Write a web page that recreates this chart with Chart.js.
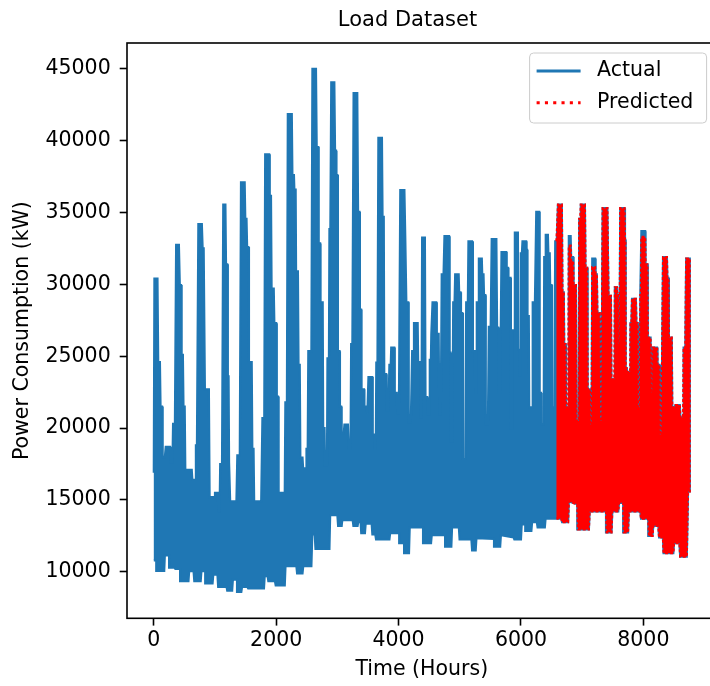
<!DOCTYPE html>
<html lang="en">
<head>
    <meta charset="UTF-8">
    <title>Load Dataset</title>
    <style>
        body { margin: 0; background: #fff; }
        #wrap { width: 710px; height: 686px; overflow: hidden; }
    </style>
</head>
<body>
<div id="wrap">
    <canvas id="load_canvas" width="815" height="686"></canvas>
</div>
<script src="https://cdn.jsdelivr.net/npm/chart.js@4.4.0/dist/chart.umd.min.js"></script>
<script>
    const xTicks = [0, 2000, 4000, 6000, 8000];
    const yTicks = [10000, 15000, 20000, 25000, 30000, 35000, 40000, 45000];

    // hourly load drawn as its upper / lower envelope: [hour, kW]
    const actualHigh = [
        [0, 16900], [10, 30400], [60, 30400], [72, 24600], [100, 24600], [110, 21500], [135, 21500],
        [145, 17950], [180, 17950], [195, 18700], [265, 18700], [280, 17600], [305, 17600], [315, 20300],
        [345, 20300], [365, 32750], [410, 32750], [425, 29950], [445, 29950], [455, 25100], [475, 25100],
        [485, 21500], [505, 21500], [515, 17100], [620, 17100], [630, 16400], [675, 16400], [688, 18800],
        [705, 18800], [728, 34200], [785, 34200], [798, 32500], [815, 32500], [835, 22700], [900, 22700],
        [912, 15200], [990, 15200], [1000, 15500], [1045, 15500], [1055, 14200], [1075, 14200], [1085, 17500],
        [1115, 17500], [1135, 35550], [1170, 35550], [1180, 31400], [1200, 31400], [1210, 23600], [1222, 23600],
        [1230, 17600], [1238, 17600], [1248, 14900], [1350, 14900], [1365, 18100], [1405, 18100], [1425, 37100],
        [1485, 37100], [1495, 34550], [1515, 34550], [1525, 32600], [1545, 32600], [1555, 24600], [1600, 24600],
        [1610, 18550], [1630, 18550], [1640, 14900], [1755, 14900], [1775, 20700], [1805, 20700], [1820, 39050],
        [1885, 39050], [1895, 36150], [1915, 36150], [1925, 29700], [1960, 29700], [1970, 27300], [2000, 27300],
        [2010, 22200], [2030, 22200], [2040, 15500], [2140, 15500], [2150, 21800], [2175, 21800], [2190, 41850],
        [2255, 41850], [2265, 37600], [2290, 37600], [2297, 36600], [2318, 36600], [2325, 30900], [2355, 30900],
        [2365, 24400], [2385, 24400], [2395, 17950], [2430, 17950], [2440, 17200], [2488, 17200], [2495, 18550],
        [2515, 18550], [2525, 25350], [2575, 25350], [2592, 45000], [2650, 45000], [2662, 39550], [2688, 39550],
        [2695, 32850], [2718, 32850], [2725, 28750], [2760, 28750], [2768, 20000], [2790, 20000], [2798, 17400],
        [2830, 17400], [2838, 24850], [2862, 24850], [2870, 33850], [2885, 33850], [2900, 44050], [2950, 44050],
        [2962, 39300], [2978, 39300], [2985, 37600], [3000, 37600], [3008, 25350], [3035, 25350], [3042, 21500],
        [3062, 21500], [3070, 19650], [3105, 19650], [3115, 20250], [3172, 20250], [3185, 18550], [3215, 18550],
        [3225, 25850], [3245, 25850], [3265, 43300], [3325, 43300], [3338, 35050], [3360, 35050], [3368, 28250],
        [3388, 28250], [3395, 22700], [3435, 22700], [3442, 21500], [3475, 21500], [3490, 21000], [3500, 21000],
        [3508, 23550], [3570, 23550], [3578, 19550], [3605, 19550], [3612, 18550], [3628, 18550], [3636, 24550],
        [3655, 24550], [3670, 40200], [3728, 40200], [3738, 34700], [3758, 34700], [3766, 23750], [3798, 23750],
        [3806, 21250], [3835, 21250], [3850, 24400], [3872, 24400], [3880, 25600], [3930, 25600], [3938, 22450],
        [3970, 22450], [3978, 21000], [4005, 21000], [4028, 36550], [4095, 36550], [4108, 33600], [4120, 33600],
        [4127, 28750], [4158, 28750], [4166, 20400], [4200, 20400], [4222, 25350], [4245, 25350], [4252, 27300],
        [4312, 27300], [4320, 24600], [4358, 24600], [4366, 20750], [4375, 20750], [4385, 33250], [4430, 33250],
        [4440, 22150], [4468, 22150], [4475, 20950], [4502, 20950], [4510, 24750], [4528, 24750], [4535, 26550],
        [4545, 26550], [4555, 28750], [4615, 28750], [4625, 26550], [4655, 26550], [4665, 20950], [4690, 20950],
        [4705, 30700], [4735, 30700], [4750, 33350], [4825, 33350], [4835, 25250], [4848, 25250], [4855, 19050],
        [4880, 19050], [4893, 28750], [4915, 28750], [4925, 30700], [4982, 30700], [4990, 29450], [5012, 29450],
        [5020, 28000], [5042, 28000], [5052, 17850], [5090, 17850], [5105, 28750], [5132, 28750], [5142, 33000],
        [5200, 33000], [5215, 25350], [5245, 25350], [5252, 22450], [5270, 22450], [5278, 28750], [5302, 28750],
        [5312, 31800], [5360, 31800], [5367, 30700], [5388, 30700], [5396, 29250], [5418, 29250], [5425, 20250],
        [5460, 20250], [5475, 27050], [5505, 27050], [5522, 33150], [5598, 33150], [5610, 27000], [5628, 27000],
        [5635, 22450], [5660, 22450], [5682, 32250], [5760, 32250], [5767, 31150], [5790, 31150], [5796, 30450],
        [5830, 30450], [5836, 20000], [5856, 20000], [5864, 26800], [5890, 26800], [5900, 33600], [5950, 33600],
        [5958, 25450], [5975, 25450], [5980, 23650], [5990, 23650], [5998, 32150], [6015, 32150], [6025, 33000],
        [6085, 33000], [6092, 32400], [6100, 32400], [6107, 27800], [6128, 27800], [6135, 21450], [6185, 21450],
        [6192, 28750], [6228, 28750], [6250, 35050], [6298, 35050], [6306, 22450], [6328, 22450], [6335, 20250],
        [6372, 20250], [6380, 31900], [6396, 31900], [6405, 33450], [6440, 33450], [6448, 32150], [6470, 32150],
        [6477, 29950], [6500, 29950], [6507, 21450], [6545, 21450], [6560, 33000], [6585, 33000], [6605, 35550],
        [6668, 35550], [6677, 29450], [6700, 29450], [6706, 25850], [6728, 25850], [6735, 21450], [6772, 21450],
        [6782, 33350], [6812, 33350], [6820, 31900], [6852, 31900], [6860, 29950], [6898, 29950], [6906, 20500],
        [6944, 20500], [6952, 34550], [6968, 34550], [6978, 35550], [7045, 35550], [7054, 31150], [7082, 31150],
        [7090, 22700], [7126, 22700], [7134, 20250], [7155, 20250], [7165, 31800], [7212, 31800], [7220, 30700],
        [7240, 30700], [7248, 28000], [7286, 28000], [7294, 20500], [7315, 20500], [7335, 35300], [7412, 35300],
        [7430, 29200], [7470, 29200], [7478, 23400], [7525, 23400], [7535, 29800], [7568, 29800], [7575, 29250],
        [7588, 29250], [7595, 25850], [7612, 25850], [7622, 35300], [7692, 35300], [7700, 33100], [7706, 33100],
        [7712, 24150], [7730, 24150], [7738, 23900], [7784, 23900], [7790, 27300], [7805, 27300], [7815, 29000],
        [7878, 29000], [7886, 27300], [7905, 27300], [7912, 21450], [7942, 21450], [7950, 29250], [7960, 29250],
        [7968, 33700], [8030, 33700], [8036, 31400], [8066, 31400], [8073, 26300], [8118, 26300], [8126, 22450],
        [8145, 22450], [8153, 25600], [8224, 25600], [8232, 24400], [8262, 24400], [8270, 19550], [8295, 19550],
        [8322, 31900], [8385, 31900], [8392, 30450], [8410, 30450], [8418, 26300], [8464, 26300], [8472, 21450],
        [8506, 21450], [8525, 21600], [8596, 21600], [8605, 20750], [8650, 20750], [8658, 25600], [8686, 25600],
        [8700, 31800], [8759, 31800]
    ];
    const actualLow = [
        [0, 10800], [40, 10800], [50, 10070], [170, 10070], [180, 11150], [250, 11150], [262, 10300], [340, 10300],
        [352, 10200], [430, 10200], [442, 9350], [566, 9350], [578, 10050], [650, 10050], [662, 9350], [766, 9350],
        [778, 10050], [840, 10050], [852, 9200], [960, 9200], [972, 9800], [1040, 9800], [1052, 8950], [1190, 8950],
        [1200, 8700], [1280, 8700], [1292, 9450], [1360, 9450], [1372, 8600], [1430, 8600], [1442, 8950], [1530, 8950],
        [1542, 8850], [1800, 8850], [1812, 9700], [1860, 9700], [1872, 9350], [1980, 9350], [1992, 9050], [2140, 9050],
        [2152, 10400], [2330, 10400], [2342, 9900], [2430, 9900], [2442, 10400], [2575, 10400], [2590, 12600],
        [2630, 12600], [2642, 11600], [2870, 11600], [2882, 13950], [3000, 13950], [3012, 13200], [3070, 13200],
        [3080, 13600], [3250, 13600], [3262, 13200], [3330, 13200], [3340, 13450], [3380, 13450], [3390, 12700],
        [3450, 12700], [3462, 13350], [3560, 13350], [3572, 12600], [3620, 12600], [3632, 12250], [3850, 12250],
        [3862, 12700], [4010, 12700], [4022, 12000], [4090, 12000], [4102, 11300], [4170, 11300], [4182, 13100],
        [4400, 13100], [4412, 12000], [4530, 12000], [4542, 12550], [4760, 12550], [4772, 11750], [4862, 11750],
        [4874, 13100], [4985, 13100], [4997, 12250], [5190, 12250], [5202, 11500], [5260, 11500], [5272, 12350],
        [5560, 12300], [5572, 11750], [5660, 11750], [5672, 12550], [5880, 12400], [5892, 12250], [6000, 12250],
        [6012, 13300], [6070, 13300], [6082, 12850], [6170, 12850], [6182, 13450], [6260, 13450], [6272, 13100],
        [6390, 13100], [6402, 13700], [6660, 13700], [6672, 13450], [6770, 13450], [6782, 14900], [6920, 14700],
        [6932, 12950], [7110, 12950], [7122, 14200], [7390, 14200], [7402, 12750], [7480, 12750], [7492, 14200],
        [7590, 14200], [7602, 14800], [7670, 14800], [7682, 12750], [7750, 12750], [7762, 14200], [7950, 14200],
        [7962, 13700], [8080, 13700], [8092, 12500], [8150, 12500], [8162, 13200], [8245, 13200], [8257, 12400],
        [8320, 12400], [8330, 11300], [8490, 11300], [8502, 12000], [8590, 12000], [8602, 11050], [8710, 11050],
        [8730, 15600], [8759, 15600]
    ];

    // model output over the test hours
    const predictedHigh = [
        [6580, 33000], [6605, 35550], [6668, 35550], [6677, 29450], [6700, 29450], [6706, 25850], [6728, 25850],
        [6735, 21450], [6772, 21450], [6782, 32700], [6812, 32700], [6820, 31600], [6852, 31600], [6860, 29950],
        [6898, 29950], [6906, 20500], [6944, 20500], [6952, 34550], [6968, 34550], [6978, 35550], [7045, 35550],
        [7054, 31150], [7082, 31150], [7090, 22700], [7126, 22700], [7134, 20250], [7155, 20250], [7165, 31200],
        [7212, 31200], [7220, 30700], [7240, 30700], [7248, 28000], [7286, 28000], [7294, 20500], [7315, 20500],
        [7335, 35300], [7412, 35300], [7430, 29200], [7470, 29200], [7478, 23400], [7525, 23400], [7535, 29800],
        [7568, 29800], [7575, 29250], [7588, 29250], [7595, 25850], [7612, 25850], [7622, 35300], [7692, 35300],
        [7700, 33100], [7706, 33100], [7712, 24150], [7730, 24150], [7738, 23900], [7784, 23900], [7790, 27300],
        [7805, 27300], [7815, 29000], [7878, 29000], [7886, 27300], [7905, 27300], [7912, 21450], [7942, 21450],
        [7950, 29250], [7960, 29250], [7968, 33300], [8030, 33300], [8036, 31400], [8066, 31400], [8073, 26300],
        [8118, 26300], [8126, 22450], [8145, 22450], [8153, 25600], [8224, 25600], [8232, 24400], [8262, 24400],
        [8270, 19550], [8295, 19550], [8322, 31900], [8385, 31900], [8392, 30450], [8410, 30450], [8418, 26300],
        [8464, 26300], [8472, 21450], [8506, 21450], [8525, 21600], [8596, 21600], [8605, 20750], [8650, 20750],
        [8658, 25600], [8686, 25600], [8700, 31800], [8759, 31800]
    ];
    const predictedLow = [
        [6580, 13700], [6660, 13700], [6672, 13450], [6770, 13450], [6782, 14900], [6920, 14700], [6932, 12950],
        [7110, 12950], [7122, 14200], [7390, 14200], [7402, 12750], [7480, 12750], [7492, 14200], [7590, 14200],
        [7602, 14800], [7670, 14800], [7682, 12750], [7750, 12750], [7762, 14200], [7950, 14200], [7962, 13700],
        [8080, 13700], [8092, 12500], [8150, 12500], [8162, 13200], [8245, 13200], [8257, 12400], [8320, 12400],
        [8330, 11300], [8490, 11300], [8502, 12000], [8590, 12000], [8602, 11050], [8710, 11050], [8730, 15600],
        [8759, 15600]
    ];

    const BLUE = '#1f77b4';
    const RED = '#ff0000';
    const FONT = 'DejaVu Sans';

    // one closed outline: along the top edge, then back along the bottom edge
    function envelope(high, low) {
        return high.concat(low.slice().reverse()).map(([x, y]) => ({x: x, y: y}));
    }

    // box round the axes
    const frame = {
        id: 'frame',
        afterDatasetsDraw(chart) {
            const {ctx, chartArea} = chart;
            ctx.save();
            ctx.strokeStyle = '#000';
            ctx.lineWidth = 1.6;
            ctx.strokeRect(chartArea.left, chartArea.top, chartArea.right - chartArea.left, chartArea.bottom - chartArea.top);
            ctx.restore();
        }
    };

    // legend inside the upper right corner of the axes
    const legendBox = {
        id: 'legendBox',
        afterDraw(chart) {
            const {ctx, chartArea} = chart;
            const items = chart.data.datasets.filter(ds => ds.label);
            const w = 177, h = 70;
            const x = chartArea.right - 10 - w;
            const y = chartArea.top + 10;
            ctx.save();
            ctx.beginPath();
            ctx.roundRect(x, y, w, h, 4);
            ctx.fillStyle = 'rgba(255,255,255,0.8)';
            ctx.fill();
            ctx.strokeStyle = '#cccccc';
            ctx.lineWidth = 1;
            ctx.stroke();
            ctx.font = '20.5px "' + FONT + '"';
            ctx.textBaseline = 'middle';
            items.forEach((ds, i) => {
                const rowY = y + 18 + i * 31.7;
                ctx.beginPath();
                ctx.strokeStyle = ds.borderColor;
                ctx.lineWidth = 3.1;
                ctx.setLineDash(ds.legendDash || []);
                ctx.moveTo(x + 7, rowY);
                ctx.lineTo(x + 51, rowY);
                ctx.stroke();
                ctx.setLineDash([]);
                ctx.fillStyle = '#000';
                ctx.fillText(ds.label, x + 67.5, rowY);
            });
            ctx.restore();
        }
    };

    const config = {
        type: 'line',
        data: {
            datasets: [
                {
                    label: 'Actual',
                    data: envelope(actualHigh, actualLow),
                    borderColor: BLUE,
                    backgroundColor: BLUE,
                    fill: 'shape',
                    order: 2
                },
                {
                    label: 'Predicted',
                    data: envelope(predictedHigh, predictedLow),
                    borderColor: RED,
                    backgroundColor: RED,
                    borderDash: [3, 2],
                    legendDash: [3.1, 5.2],
                    fill: 'shape',
                    order: 1
                }
            ]
        },
        options: {
            responsive: false,
            animation: false,
            events: [],
            layout: {padding: 0},
            elements: {
                line: {tension: 0, borderWidth: 2.2},
                point: {radius: 0}
            },
            plugins: {
                legend: {display: false},
                tooltip: {enabled: false},
                title: {
                    display: true,
                    text: 'Load Dataset',
                    color: '#000',
                    font: {family: FONT, size: 21, weight: 'normal'},
                    padding: {top: 8, bottom: 9.8}
                }
            },
            scales: {
                x: {
                    type: 'linear',
                    min: -438,
                    max: 9197,
                    afterBuildTicks: scale => { scale.ticks = xTicks.map(v => ({value: v})); },
                    afterFit: scale => { scale.height = 67.7; },
                    ticks: {
                        autoSkip: false,
                        maxRotation: 0,
                        padding: 3,
                        color: '#000',
                        font: {family: FONT, size: 20.5},
                        callback: v => String(v)
                    },
                    grid: {drawOnChartArea: false, tickLength: 7.3, tickWidth: 1.6, tickColor: '#000'},
                    border: {display: false},
                    title: {
                        display: true,
                        text: 'Time (Hours)',
                        color: '#000',
                        font: {family: FONT, size: 20.5},
                        padding: {top: 0, bottom: 4.2}
                    }
                },
                y: {
                    type: 'linear',
                    min: 6770,
                    max: 46790,
                    afterBuildTicks: scale => { scale.ticks = yTicks.map(v => ({value: v})); },
                    afterFit: scale => { scale.width = 127; },
                    ticks: {
                        autoSkip: false,
                        padding: 9,
                        color: '#000',
                        font: {family: FONT, size: 20.5},
                        callback: v => String(v)
                    },
                    grid: {drawOnChartArea: false, tickLength: 7.3, tickWidth: 1.6, tickColor: '#000'},
                    border: {display: false},
                    title: {
                        display: true,
                        text: 'Power Consumption (kW)',
                        color: '#000',
                        font: {family: FONT, size: 20.5},
                        padding: {top: 10, bottom: 0}
                    }
                },
                // empty right-hand band: keeps the figure margin to the right of the axes
                yRight: {
                    type: 'linear',
                    position: 'right',
                    min: 6770,
                    max: 46790,
                    afterFit: scale => { scale.width = 98.4; },
                    ticks: {display: false},
                    grid: {display: false},
                    border: {display: false}
                }
            }
        },
        plugins: [frame, legendBox]
    };

    const loadChart = new Chart(document.getElementById('load_canvas').getContext('2d'), config);
</script>
</body>
</html>
